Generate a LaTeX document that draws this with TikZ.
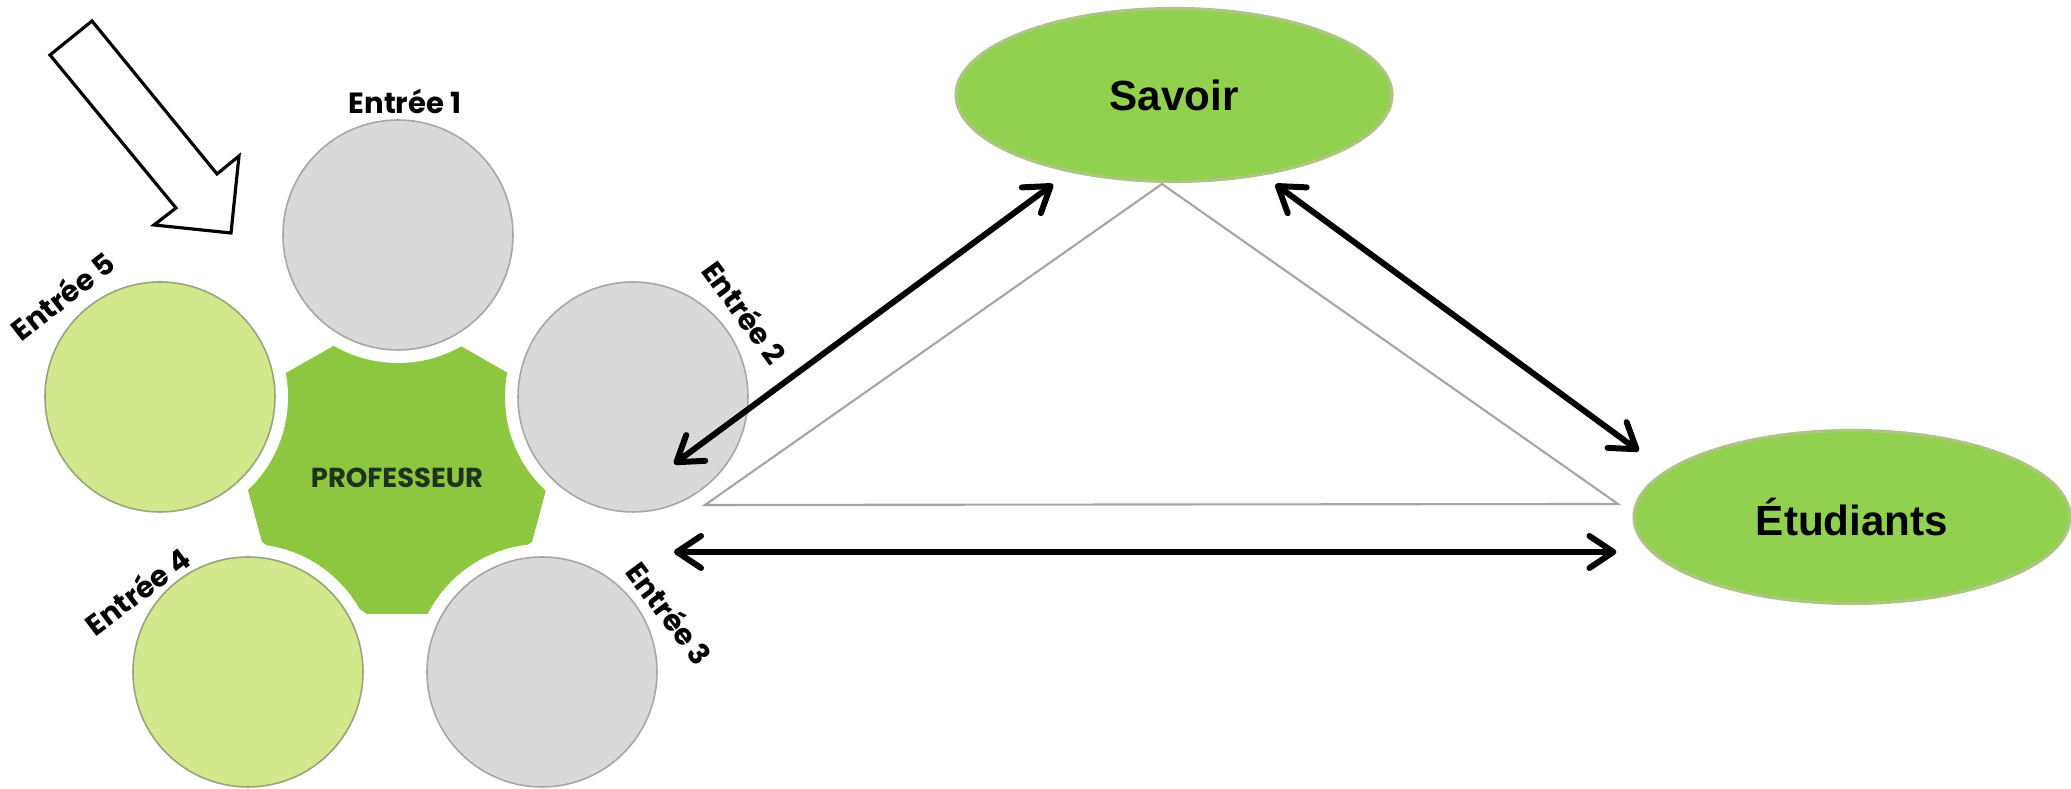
\documentclass[tikz,border=0pt]{standalone}
\usepackage{fontspec}
\setmainfont{Liberation Sans}
\newfontfamily\gothique{Poppins}
\usetikzlibrary{arrows.meta,shapes.geometric}
\definecolor{gris}{RGB}{217,217,217}
\definecolor{bordgris}{RGB}{166,166,166}
\definecolor{vertclair}{RGB}{211,231,140}
\definecolor{bordvert}{RGB}{150,165,120}
\definecolor{vertprof}{RGB}{141,198,63}
\definecolor{vertfonce}{RGB}{28,52,30}
\definecolor{vertpole}{RGB}{146,208,80}
\definecolor{bordpole}{RGB}{172,198,130}
\definecolor{trait}{RGB}{165,165,165}
\begin{document}
\begin{tikzpicture}[
  >={Straight Barb[length=2.4mm,width=3.2mm,round]},
  fleche/.style={<->, line width=1.7pt},
  entree/.style={circle, minimum size=2.3cm, inner sep=0pt, line width=0.45pt},
  lbl/.style={font=\gothique\bfseries\fontsize{8.3}{10}\selectfont},
  pole/.style={ellipse, minimum width=4.36cm, minimum height=1.73cm, inner sep=0pt,
               fill=vertpole, draw=bordpole, line width=0.9pt,
               font=\bfseries\fontsize{12}{14}\selectfont}]%{{{
\useasboundingbox (0,0) rectangle (20.71,7.89);
%
% Centres des entrées
\foreach \n/\x/\y in {1/3.98/5.54, 2/6.33/3.92, 3/5.42/1.17, 4/2.48/1.17, 5/1.60/3.92}
  \coordinate (c\n) at (\x,\y);
%
% Grande flèche
\draw [line width=0.9pt, fill=white]
                 (0.50,7.34) -- (0.92,7.68)
            -- (2.17,6.15) -- (2.39,6.33)
            -- (2.31,5.56) -- (1.54,5.64)
            -- (1.76,5.81) --    cycle;
%
% Professeur (forme découpée par les entrées)
\fill [vertprof]
                 (2.86,4.16) -- (3.35,4.44)
            -- (4.59,4.44) -- (5.08,4.16)
            -- (5.46,2.99) -- (5.32,2.47)
            -- (4.27,1.75) -- (3.67,1.75)
            -- (2.62,2.47) -- (2.48,2.99) -- cycle;
\foreach \n in {1,...,5} \fill [white] (c\n) circle (1.28);
\node [font=\gothique\bfseries\fontsize{7.8}{9}\selectfont, text=vertfonce] (prof) at (3.97,3.11) {PROFESSEUR};
%
% Entrées
\node [entree, fill=gris, draw=bordgris]       (e1) at (c1) {};
\node [entree, fill=gris, draw=bordgris]       (e2) at (c2) {};
\node [entree, fill=gris, draw=bordgris]       (e3) at (c3) {};
\node [entree, fill=vertclair, draw=bordvert]  (e4) at (c4) {};
\node [entree, fill=vertclair, draw=bordvert]  (e5) at (c5) {};
%
\node [lbl]             (l1) at (4.05,6.88) {Entrée 1};
\node [lbl, rotate=-54] (l2) at (7.45,4.77) {Entrée 2};
\node [lbl, rotate=-53] (l3) at (6.70,1.76) {Entrée 3};
\node [lbl, rotate=37]  (l4) at (1.37,1.98) {Entrée 4};
\node [lbl, rotate=38]  (l5) at (0.62,4.93) {Entrée 5};
%
% Savoir et Étudiants
\node [pole] (savoir) at (11.74,6.94) {Savoir};
\node [pole] (etud)   at (18.52,2.72) {Étudiants};
%
% Triangle
\draw [trait, line width=0.6pt] (11.62,6.05) -- (7.05,2.84) -- (16.18,2.85) -- cycle;
%
% Relations
\coordinate (p2) at (6.74,3.25);
\coordinate (p3) at (6.74,2.37);
\draw [fleche, shorten >=2mm] (p2) -- (savoir);
\draw [fleche, shorten <=1.5mm, shorten >=3.3mm] (savoir.-42) -- (etud.166);
\draw [fleche, shorten >=1.6mm] (p3) -- (p3 -| etud.west);
%
\end{tikzpicture}
\end{document}
